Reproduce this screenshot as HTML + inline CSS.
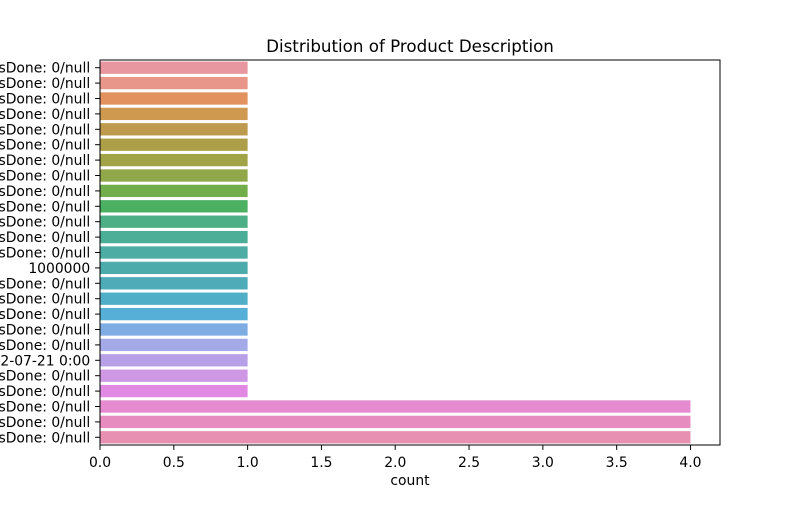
<!DOCTYPE html>
<html><head><meta charset="utf-8"><style>
body{margin:0;background:#fff;}
svg text{font-family:"DejaVu Sans","Liberation Sans",sans-serif;}
</style></head><body>
<svg width="800" height="500" viewBox="0 0 800 500" xmlns="http://www.w3.org/2000/svg">
<rect width="800" height="500" fill="#fff"/>
<text x="410" y="52" font-size="16.7" text-anchor="middle" fill="#000">Distribution of Product Description</text>
<g id="bars"></g>
<g id="yaxis"></g>
<g id="xaxis"></g>
<rect x="100" y="60" width="620" height="385" fill="none" stroke="#000" stroke-width="1"/>
<text x="410" y="485" font-size="13.9" text-anchor="middle" fill="#000">count</text>
</svg>
<script>
const categories=["sDone: 0/null","sDone: 0/null","sDone: 0/null","sDone: 0/null","sDone: 0/null","sDone: 0/null","sDone: 0/null","sDone: 0/null","sDone: 0/null","sDone: 0/null","sDone: 0/null","sDone: 0/null","sDone: 0/null","1000000","sDone: 0/null","sDone: 0/null","sDone: 0/null","sDone: 0/null","sDone: 0/null","2-07-21 0:00","sDone: 0/null","sDone: 0/null","sDone: 0/null","sDone: 0/null","sDone: 0/null"];
const counts=[1,1,1,1,1,1,1,1,1,1,1,1,1,1,1,1,1,1,1,1,1,1,4,4,4];
const colors=["#e8969f","#e8968a","#e2925e","#cf9a4f","#bd9a4d","#ad9e48","#a0a446","#90a84a","#72ad4b","#4bb062","#4daf85","#4dae97","#4daca3","#4eabab","#4fabb8","#50aec6","#55afd6","#7fade3","#a4a9e8","#b8a0e8","#cf98e5","#e28ae3","#e68bd0","#e78cbf","#e890b2"];
const xTicks=[0,0.5,1,1.5,2,2.5,3,3.5,4];
const xTickLabels=["0.0","0.5","1.0","1.5","2.0","2.5","3.0","3.5","4.0"];
const X0=100,X1=720,Y0=60,Y1=445,xMax=4.2;
const xs=v=>X0+v/xMax*(X1-X0);
const band=(Y1-Y0)/categories.length;
const yc=i=>Y0+band*(i+0.5);
const NS="http://www.w3.org/2000/svg";
const bars=document.getElementById('bars'),ya=document.getElementById('yaxis'),xa=document.getElementById('xaxis');
function mk(t,a){const e=document.createElementNS(NS,t);for(const k in a)e.setAttribute(k,a[k]);return e;}
categories.forEach((c,i)=>{
  const r=mk('rect',{x:xs(0),y:yc(i)-band*0.4,width:xs(counts[i])-xs(0),height:band*0.8,fill:colors[i]});
  
  
  bars.appendChild(r);
  const tk=mk('line',{x1:X0-4.9,x2:X0,y1:yc(i),y2:yc(i),stroke:'#000'});
  
  
  ya.appendChild(tk);
  const t=mk('text',{x:X0-9.8,y:yc(i)+5,'font-size':'13.9','text-anchor':'end',fill:'#000'});
  t.textContent=c;
  
  
  ya.appendChild(t);
});
xTicks.forEach((v,i)=>{
  const tk=mk('line',{x1:xs(v),x2:xs(v),y1:Y1,y2:Y1+4.9,stroke:'#000'});
  
  
  xa.appendChild(tk);
  const t=mk('text',{x:xs(v),y:Y1+22,'font-size':'13.9','text-anchor':'middle',fill:'#000'});
  t.textContent=xTickLabels[i];
  
  
  xa.appendChild(t);
});
</script>
</body></html>
